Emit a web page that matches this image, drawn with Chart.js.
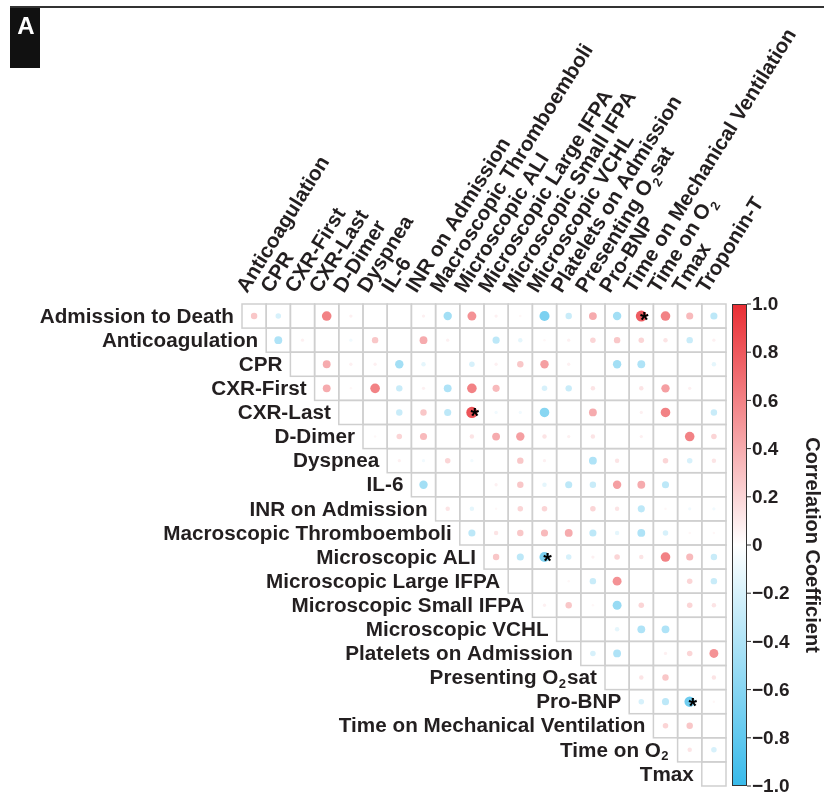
<!DOCTYPE html>
<html>
<head>
<meta charset="utf-8">
<script src="https://cdn.jsdelivr.net/npm/chart.js@4.4.0/dist/chart.umd.min.js"></script>
<style>
  html, body { margin: 0; padding: 0; background: #fff; }
  #wrap { width: 824px; height: 792px; }
</style>
</head>
<body>
<div id="wrap"><canvas id="corrChart" width="824" height="792"></canvas></div>
<script>
// variables down the side (rows) and across the top (columns)
const rowLabels = [
    "Admission to Death", "Anticoagulation", "CPR", "CXR-First", "CXR-Last",
    "D-Dimer", "Dyspnea", "IL-6", "INR on Admission", "Macroscopic Thromboemboli",
    "Microscopic ALI", "Microscopic Large IFPA", "Microscopic Small IFPA", "Microscopic VCHL",
    "Platelets on Admission", "Presenting O₂sat", "Pro-BNP", "Time on Mechanical Ventilation",
    "Time on O₂", "Tmax"
];
const colLabels = [
    "Anticoagulation", "CPR", "CXR-First", "CXR-Last", "D-Dimer", "Dyspnea", "IL-6",
    "INR on Admission", "Macroscopic Thromboemboli", "Microscopic ALI", "Microscopic Large IFPA",
    "Microscopic Small IFPA", "Microscopic VCHL", "Platelets on Admission", "Presenting O₂sat",
    "Pro-BNP", "Time on Mechanical Ventilation", "Time on O₂", "Tmax", "Troponin-T"
];

// upper triangle: row i holds the values for columns i..19
const correlations = [
    [0.27, -0.2, 0, 0.6, 0.07, 0, 0, 0.07, -0.46, 0.52, 0.07, 0.04, -0.66, -0.27, 0.4, -0.46, 0.78, 0.6, 0.33, -0.33],
    [-0.4, 0.07, 0, -0.07, 0.27, 0, 0.4, 0.07, 0, -0.33, -0.13, 0.04, 0.07, 0.2, 0.27, 0.2, 0.13, -0.27, 0.07],
    [0, 0.4, 0.07, 0.07, -0.46, -0.13, 0, -0.2, 0.07, 0.27, 0.46, 0.07, 0, -0.46, -0.4, 0, 0, -0.13],
    [0.4, 0.04, 0.6, -0.27, 0.07, -0.4, 0.6, 0.33, 0, -0.2, -0.27, 0.13, 0, 0.13, 0.46, 0.07, 0],
    [0, 0, -0.27, 0.27, -0.33, 0.82, -0.07, -0.07, -0.6, 0, 0.4, 0, 0.07, 0.6, 0, -0.27],
    [0.04, 0.2, 0.33, 0, 0.13, 0.4, 0.46, 0.13, 0.07, 0.13, 0, 0.07, 0, 0.6, 0.2],
    [0.07, -0.07, 0.2, -0.07, 0, 0.27, 0.07, 0, -0.4, 0.13, 0, 0.2, -0.2, 0.13],
    [-0.46, 0, 0, 0.07, 0.27, -0.13, -0.33, -0.27, 0.46, 0.4, -0.33, 0, 0],
    [0.13, -0.13, 0.04, 0.2, 0.2, 0, 0.2, 0.13, -0.33, 0.04, -0.07, -0.07],
    [-0.33, 0.13, 0.27, 0.33, 0.4, -0.33, -0.13, -0.4, -0.2, 0.04, 0.04],
    [0.27, -0.33, -0.66, -0.2, 0.07, 0.2, 0.13, 0.6, 0.33, -0.27],
    [0, 0, 0.04, -0.27, 0.52, 0, 0, 0.2, -0.27],
    [0.07, 0.27, 0.04, -0.52, 0.2, 0, 0.2, 0.13],
    [0, 0, -0.13, -0.4, -0.4, 0, 0],
    [-0.2, -0.4, 0, 0.07, 0.2, 0.52],
    [0, 0.13, 0.27, 0, 0.13],
    [-0.2, -0.33, -0.72, 0.04],
    [0.2, 0.27, 0],
    [0.13, -0.2],
    [0]
];

// cells marked with an asterisk: [row, column]
const significant = [[0, 16], [4, 9], [10, 12], [16, 18]];

const colorbarTicks = [1, 0.8, 0.6, 0.4, 0.2, 0, -0.2, -0.4, -0.6, -0.8, -1];

const RED = [233, 46, 52];
const BLUE = [56, 186, 234];
const FONT = "'Liberation Sans', Arial, Helvetica, sans-serif";
const INK = "#231f20";
const LABEL_SIZE = 20.7;

function colorFor(v) {
    const end = v > 0 ? RED : BLUE;
    const t = Math.min(1, Math.abs(v));
    const c = end.map(e => Math.round(255 + (e - 255) * t));
    return "rgb(" + c.join(",") + ")";
}

// bubble points built from the matrix
const points = [];
correlations.forEach((row, i) => {
    row.forEach((v, k) => {
        if (v === 0) return;
        const j = i + k;
        points.push({ x: j + 0.5, y: i + 0.5, r: 6.2 * Math.sqrt(Math.abs(v)), v: v });
    });
});

// text with a subscript 2
function richWidth(ctx, text, size) {
    const parts = text.split("₂");
    let w = 0;
    ctx.font = "bold " + size + "px " + FONT;
    parts.forEach(p => w += ctx.measureText(p).width);
    ctx.font = "bold " + Math.round(size * 0.62) + "px " + FONT;
    w += (parts.length - 1) * (ctx.measureText("2").width + 1.5);
    return w;
}

function drawRich(ctx, text, x, y, size, align) {
    const parts = text.split("₂");
    let cx = align === "right" ? x - richWidth(ctx, text, size) : x;
    ctx.textAlign = "left";
    parts.forEach((p, idx) => {
        ctx.font = "bold " + size + "px " + FONT;
        ctx.fillText(p, cx, y);
        cx += ctx.measureText(p).width;
        if (idx < parts.length - 1) {
            ctx.font = "bold " + Math.round(size * 0.62) + "px " + FONT;
            ctx.fillText("2", cx + 0.5, y + size * 0.28);
            cx += ctx.measureText("2").width + 1.5;
        }
    });
}

const gridPlugin = {
    id: "gridCells",
    beforeDatasetsDraw(chart) {
        const ctx = chart.ctx, xs = chart.scales.x, ys = chart.scales.y;
        ctx.save();
        ctx.strokeStyle = "#cfcfcf";
        ctx.lineWidth = 1.5;
        for (let i = 0; i < rowLabels.length; i++) {
            for (let j = i; j < colLabels.length; j++) {
                const x0 = xs.getPixelForValue(j), x1 = xs.getPixelForValue(j + 1);
                const y0 = ys.getPixelForValue(i), y1 = ys.getPixelForValue(i + 1);
                ctx.strokeRect(x0, y0, x1 - x0, y1 - y0);
            }
        }
        ctx.restore();
    },
    afterDatasetsDraw(chart) {
        const ctx = chart.ctx, xs = chart.scales.x, ys = chart.scales.y;
        ctx.save();
        ctx.fillStyle = "#000";
        ctx.font = "bold 22px " + FONT;
        ctx.textAlign = "center";
        ctx.textBaseline = "alphabetic";
        significant.forEach(([i, j]) => {
            const cx = xs.getPixelForValue(j + 0.5), cy = ys.getPixelForValue(i + 0.5);
            ctx.fillText("*", cx + 3, cy + 11);
        });
        ctx.restore();
    }
};

const labelPlugin = {
    id: "labels",
    afterDraw(chart) {
        const ctx = chart.ctx, xs = chart.scales.x, ys = chart.scales.y, cb = chart.scales.cb;
        const area = chart.chartArea;
        ctx.save();
        ctx.fillStyle = INK;

        // row labels, stair-stepped
        ctx.textBaseline = "middle";
        rowLabels.forEach((lab, i) => {
            drawRich(ctx, lab, xs.getPixelForValue(i) - 8, ys.getPixelForValue(i + 0.5) + 1, LABEL_SIZE, "right");
        });

        // rotated column labels
        ctx.textBaseline = "alphabetic";
        colLabels.forEach((lab, j) => {
            ctx.save();
            ctx.translate(xs.getPixelForValue(j + 0.5) - 7, area.top - 10);
            ctx.rotate(-58 * Math.PI / 180);
            drawRich(ctx, lab, 0, 0, LABEL_SIZE, "left");
            ctx.restore();
        });

        // colour bar
        const bx = area.right + 6, bw = 15;
        const top = cb.getPixelForValue(1), bottom = cb.getPixelForValue(-1);
        const grad = ctx.createLinearGradient(0, top, 0, bottom);
        grad.addColorStop(0, "rgb(" + RED.join(",") + ")");
        grad.addColorStop(0.5, "#ffffff");
        grad.addColorStop(1, "rgb(" + BLUE.join(",") + ")");
        ctx.fillStyle = grad;
        ctx.fillRect(bx, top, bw, bottom - top);
        ctx.strokeStyle = "#333";
        ctx.lineWidth = 1;
        ctx.strokeRect(bx + 0.5, top + 0.5, bw - 1, bottom - top - 1);

        ctx.fillStyle = INK;
        ctx.font = "bold 19px " + FONT;
        ctx.textAlign = "left";
        ctx.textBaseline = "middle";
        colorbarTicks.forEach(t => {
            const y = cb.getPixelForValue(t);
            ctx.beginPath();
            ctx.moveTo(bx + bw, y);
            ctx.lineTo(bx + bw + 4, y);
            ctx.stroke();
            let s = t === 0 ? "0" : Math.abs(t).toFixed(1);
            if (t < 0) s = "\u2212" + s;
            ctx.fillText(s, bx + bw + 5, y + 1);
        });

        ctx.save();
        ctx.translate(812, (top + bottom) / 2);
        ctx.rotate(Math.PI / 2);
        ctx.textAlign = "center";
        ctx.font = "bold 20px " + FONT;
        ctx.fillText("Correlation Coefficient", 0, 0);
        ctx.restore();

        // panel tag
        ctx.fillStyle = "#333";
        ctx.fillRect(10, 6, 814, 2);
        ctx.fillStyle = "#111";
        ctx.fillRect(10, 8, 30, 60);
        ctx.fillStyle = "#fff";
        ctx.font = "bold 24px " + FONT;
        ctx.textAlign = "center";
        ctx.textBaseline = "alphabetic";
        ctx.fillText("A", 26, 34);
        ctx.restore();
    }
};

const ctx = document.getElementById("corrChart").getContext("2d");
window.myChart = new Chart(ctx, {
    type: "bubble",
    data: {
        datasets: [{
            data: points,
            backgroundColor: points.map(p => colorFor(p.v)),
            borderWidth: 0,
            hoverRadius: 0
        }]
    },
    options: {
        responsive: false,
        animation: false,
        devicePixelRatio: 1,
        events: [],
        layout: { padding: { left: 242, top: 304, right: 98, bottom: 6 } },
        plugins: {
            legend: { display: false },
            tooltip: { enabled: false }
        },
        scales: {
            x: { type: "linear", min: 0, max: 20, display: false },
            y: { type: "linear", min: 0, max: 20, reverse: true, display: false },
            cb: { type: "linear", axis: "y", position: "right", min: -1, max: 1, display: false }
        }
    },
    plugins: [gridPlugin, labelPlugin]
});
</script>
</body>
</html>
